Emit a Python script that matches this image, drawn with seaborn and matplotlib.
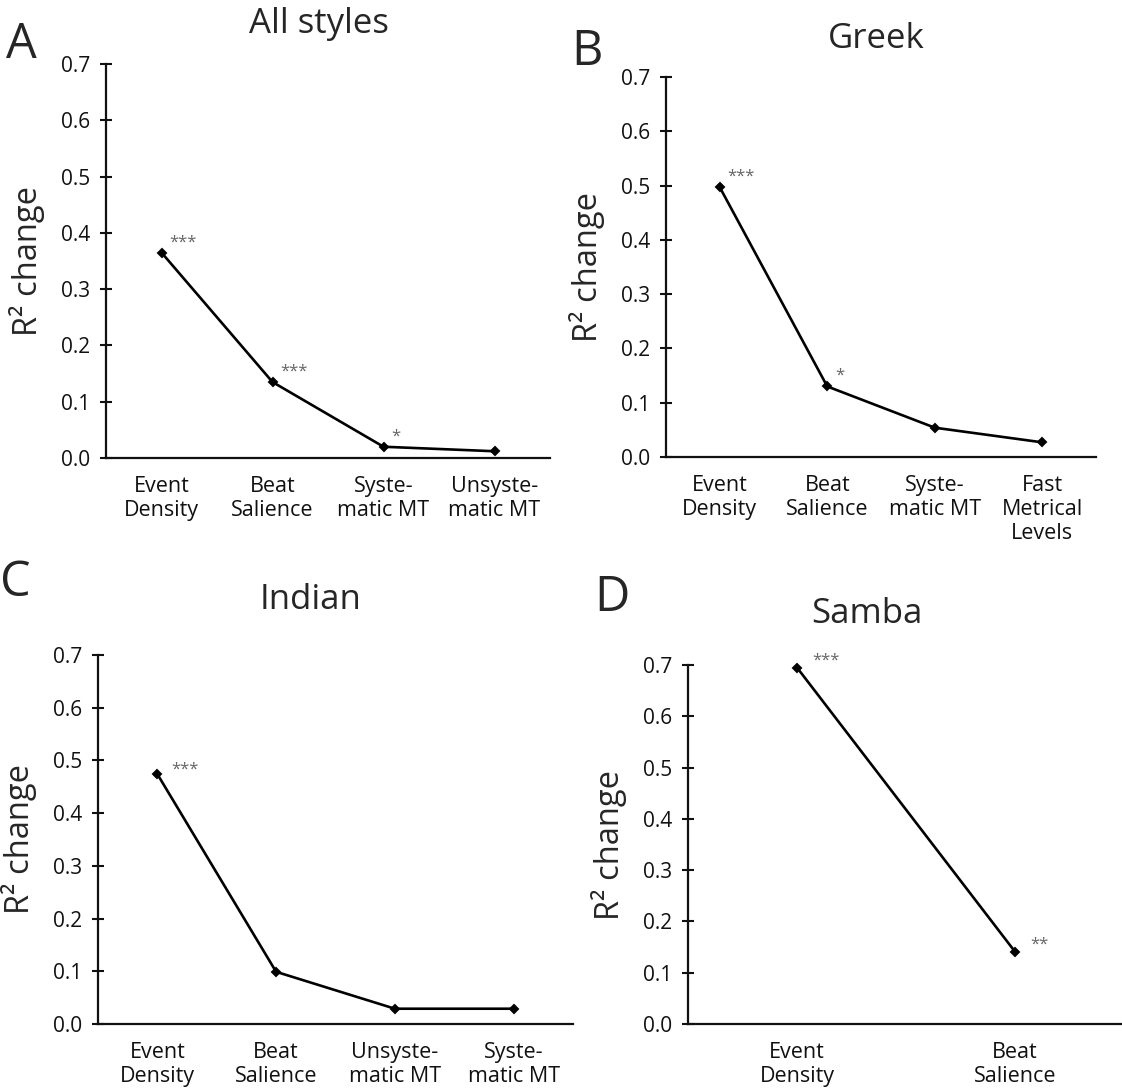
import numpy as np
import matplotlib
matplotlib.use("Agg")
import matplotlib.pyplot as plt
import seaborn as sns

# ---- data ----
all_cats = ["Event\nDensity", "Beat\nSalience", "Syste-\nmatic MT", "Unsyste-\nmatic MT"]
all_vals = [0.365, 0.135, 0.020, 0.012]
all_sig = ["***", "***", "*", ""]

greek_cats = ["Event\nDensity", "Beat\nSalience", "Syste-\nmatic MT", "Fast\nMetrical\nLevels"]
greek_vals = [0.497, 0.130, 0.054, 0.027]
greek_sig = ["***", "*", "", ""]

indian_cats = ["Event\nDensity", "Beat\nSalience", "Unsyste-\nmatic MT", "Syste-\nmatic MT"]
indian_vals = [0.474, 0.099, 0.029, 0.029]
indian_sig = ["***", "", "", ""]

samba_cats = ["Event\nDensity", "Beat\nSalience"]
samba_vals = [0.695, 0.141]
samba_sig = ["***", "**"]

y_ticks = [0.0, 0.1, 0.2, 0.3, 0.4, 0.5, 0.6, 0.7]

# ---- style ----
sns.set_style("ticks")
plt.rcParams["font.family"] = ["Open Sans", "DejaVu Sans"]

W, H = 1122, 1088
fig = plt.figure(figsize=(W / 100, H / 100), dpi=100)


def px_rect(l, t, r, b):
    return [l / W, 1 - b / H, (r - l) / W, (b - t) / H]


# letter, title, cats, vals, sig, axes box (px), letter pos, title pos (px), star offset (px)
panels = [
    ("A", "All styles", all_cats, all_vals, all_sig, (106, 64, 550, 458), (21, 45), (319, 24), (8, 6)),
    ("B", "Greek", greek_cats, greek_vals, greek_sig, (666, 77, 1096, 457), (587, 52), (876, 39), (8, 7)),
    ("C", "Indian", indian_cats, indian_vals, indian_sig, (98, 655, 573, 1024), (15, 583), (311, 600), (14, 0)),
    ("D", "Samba", samba_cats, samba_vals, samba_sig, (688, 665, 1124, 1024), (612, 598), (867, 614), (15, 3)),
]

for letter, title, cats, vals, sig, box, lpos, tpos, soff in panels:
    l, t, r, b = box
    ax = fig.add_axes(px_rect(l, t, r, b))
    sns.pointplot(x=cats, y=vals, color="black", markers="D", markersize=4.5,
                  linewidth=1.9, errorbar=None, ax=ax, clip_on=False)
    ax.set_ylim(0, 0.7)
    ax.set_xlim(-0.5, len(cats) - 0.5)
    ax.set_yticks(y_ticks)
    ax.set_yticklabels([f"{v:.1f}" for v in y_ticks])
    sns.despine(ax=ax)
    for s in ("left", "bottom"):
        ax.spines[s].set_linewidth(1.6)
        ax.spines[s].set_color("#111111")
    ax.tick_params(axis="y", direction="inout", length=9, width=1.5, pad=7,
                   labelsize=15, colors="#111111")
    ax.tick_params(axis="x", length=0, pad=13, labelsize=15.5, colors="#111111")
    ax.set_xlabel("")
    ax.set_ylabel("R\u00b2 change", fontsize=23.5, va="center")
    ax.yaxis.set_label_coords(-79 / (r - l), 0.5)

    for i, s in enumerate(sig):
        if s:
            ax.annotate(s, (i, vals[i]), xytext=(soff[0] * 0.72, soff[1] * 0.72),
                        textcoords="offset points", ha="left", va="baseline",
                        fontsize=12, color="#666666", annotation_clip=False)

    fig.text(tpos[0] / W, 1 - tpos[1] / H, title, fontsize=25, ha="center", va="center")
    fig.text(lpos[0] / W, 1 - lpos[1] / H, letter, fontsize=35, ha="center", va="center")

fig.savefig("out.png", dpi=100)
